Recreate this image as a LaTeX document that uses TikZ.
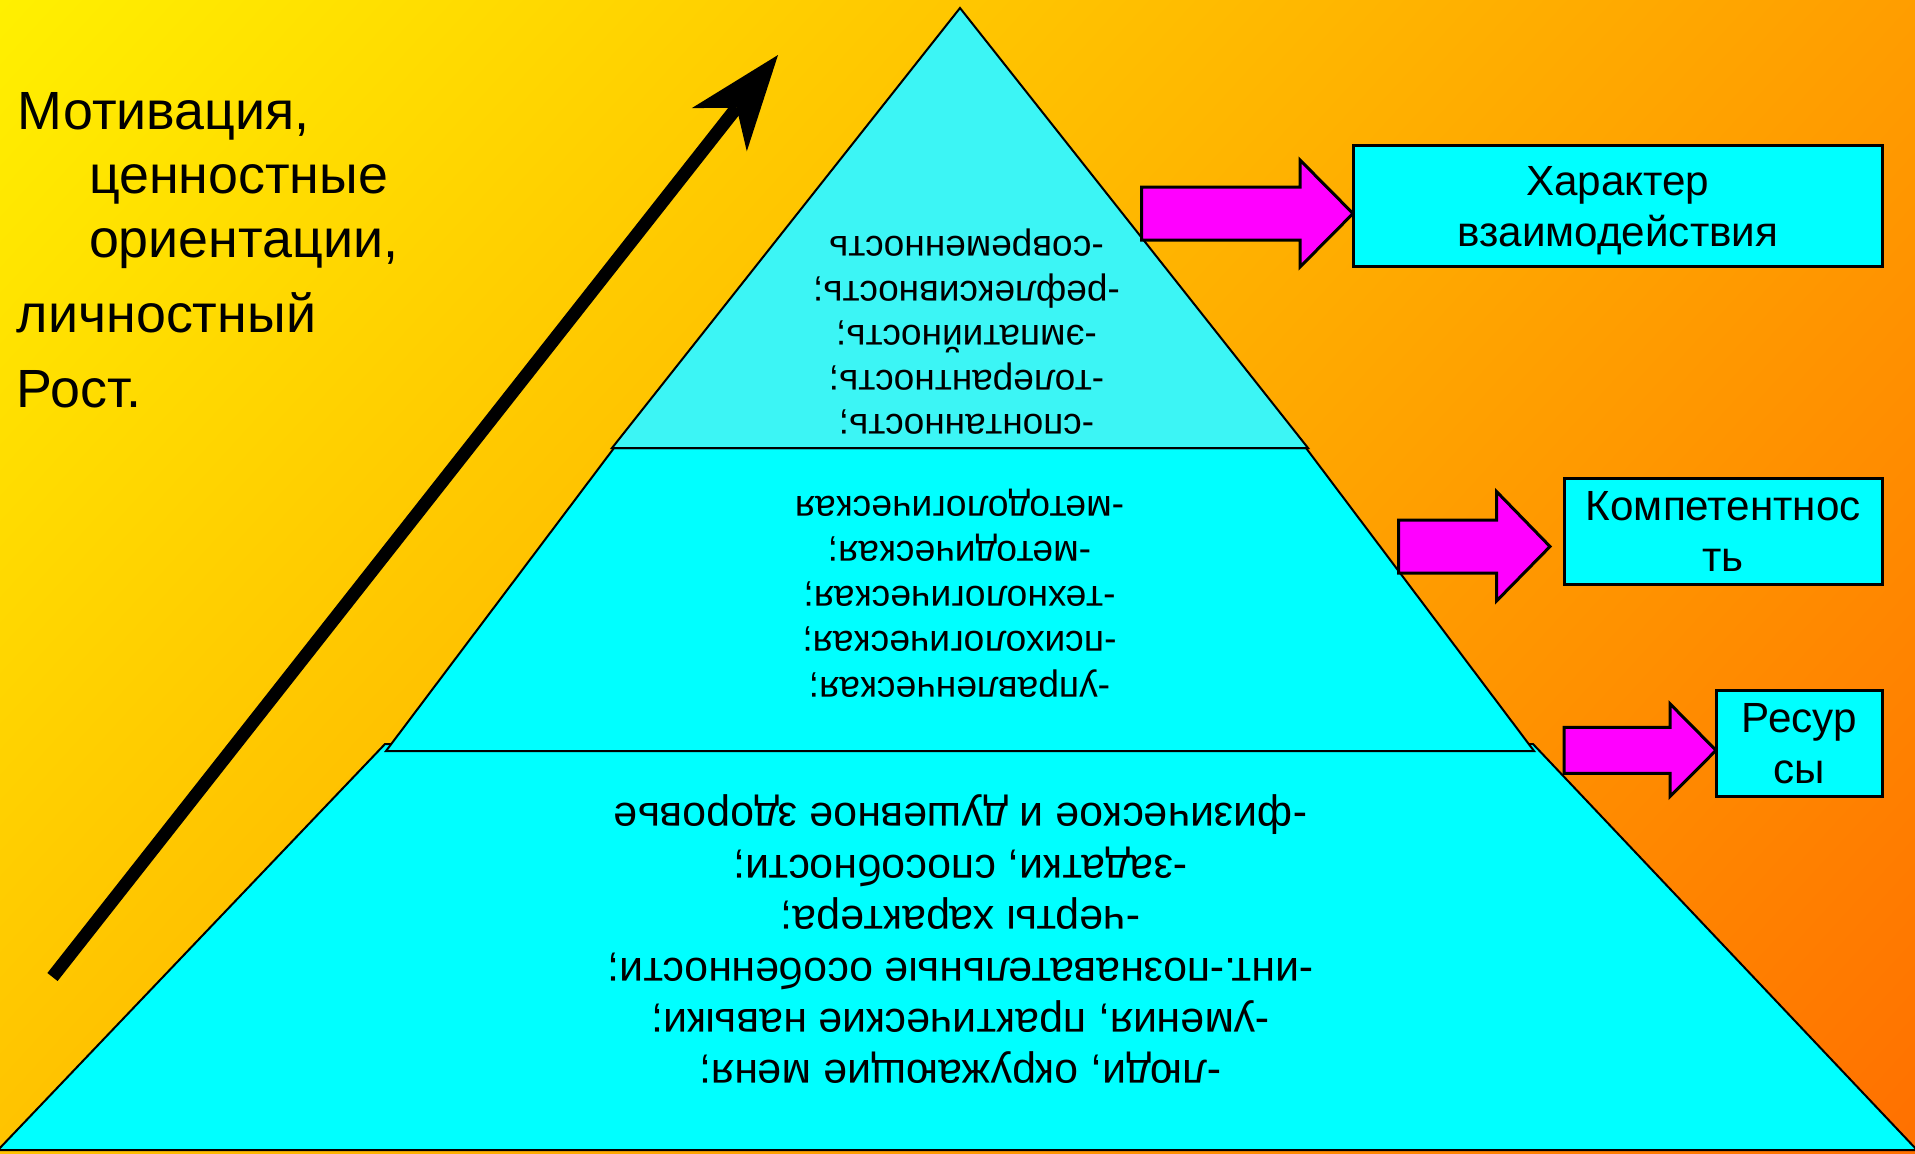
\documentclass[tikz,border=0pt]{standalone}
\usepackage{fontspec}
\setmainfont{Liberation Sans}
\usetikzlibrary{calc}
\definecolor{bgA}{RGB}{255,240,0}
\definecolor{bgB}{RGB}{255,112,0}
\definecolor{pyrTop}{RGB}{60,245,245}
\definecolor{pyrCyan}{RGB}{0,255,255}
\definecolor{arrMag}{RGB}{255,0,255}
\pgfdeclarehorizontalshading{bgshade}{1400bp}{color(0bp)=(bgA); color(300bp)=(bgA); color(1391.6bp)=(bgB); color(1691.6bp)=(bgB)}
\newcommand{\myhs}[1]{\rule{0pt}{#1}}
\newcommand{\myds}[1]{\rule[-#1]{0pt}{#1}}
\begin{document}
\begin{tikzpicture}[x=0.5pt,y=-0.5pt,
  pyr/.style={draw=black, line width=1pt, line join=miter},
  ptext/.style={rotate=180, align=center, inner sep=0pt, outer sep=0pt},
  barrow/.style={fill=arrMag, draw=black, line width=1.5pt, line join=miter},
  infobox/.style={draw=black, fill=pyrCyan, line width=1.5pt, align=center, inner sep=0pt,
    font=\fontsize{21.1}{25.5}\selectfont},
  lefttext/.style={inner sep=0pt, outer sep=0pt, anchor=base west, font=\fontsize{26.9}{31}\selectfont}
]
\useasboundingbox (0,0) rectangle (1915,1153);
\begin{scope}
  \clip (0,0) rectangle (1915,1153);
  \node[inner sep=0pt, outer sep=0pt, rotate=-42.45] (bg) at (957.5,576.5) {\pgfuseshading{bgshade}};
\end{scope}

% pyramid
\draw[pyr, fill=pyrCyan] (385,744) -- (1533,744) -- (1917,1150) -- (-2,1150) -- cycle;
\draw[pyr, fill=pyrCyan] (614,448) -- (1306,448) -- (1534,751) -- (386,751) -- cycle;
\draw[pyr, fill=pyrTop] (960,8) -- (1308,448) -- (612,448) -- cycle;

% pyramid texts (upside down)
\node[ptext, font=\fontsize{18.5}{22.2}\selectfont] (txtTop) at (966.5,335.3)
  {\myhs{0.8em}-спонтанность;\\-толерантность;\\-эмпатийность;\\-рефлексивность;\\-современность\myds{0.28em}};
\node[ptext, font=\fontsize{18.6}{22.6}\selectfont] (txtMid) at (959.5,596.4)
  {\myhs{0.8em}-управленческая;\\-психологическая;\\-технологическая;\\-методическая;\\-методологическая\myds{0.28em}};
\node[ptext, font=\fontsize{21.4}{25.7}\selectfont] (txtBot) at (960.5,943.6)
  {\myhs{0.8em}-люди, окружающие меня;\\-умения, практические навыки;\\-инт.-познавательные особенности;\\-черты характера;\\-задатки, способности;\\-физическое и душевное здоровье\myds{0.28em}};

% big black arrow
\coordinate (arTail) at (52.5,977);
\coordinate (arTip) at (778,55);
\coordinate (arBarbL) at (691.8,108.1);
\coordinate (arBarbR) at (746.8,151.3);
\coordinate (arNotch) at (736.6,107.7);
\draw[line width=6.5pt] (arTail) -- (arNotch);
\fill (arTip) -- (arBarbL) -- (arNotch) -- (arBarbR) -- cycle;

% left text
\node[lefttext] (lt1) at (18,129) {Мотивация,};
\node[lefttext] (lt2) at (89,193) {ценностные};
\node[lefttext] (lt3) at (89,257) {ориентации,};
\node[lefttext] (lt4) at (17,332) {личностный};
\node[lefttext] (lt5) at (17,407) {Рост.};

% block arrows
\draw[barrow] (1141.5,187) -- (1300,187) -- (1300,160) -- (1353,213.5) -- (1300,267) -- (1300,240) -- (1141.5,240) -- cycle;
\draw[barrow] (1398.5,520) -- (1496.5,520) -- (1496.5,491.5) -- (1550,546.5) -- (1496.5,601) -- (1496.5,573) -- (1398.5,573) -- cycle;
\draw[barrow] (1564,727.4) -- (1670,727.4) -- (1670,703.8) -- (1716,750.3) -- (1670,796.5) -- (1670,773.3) -- (1564,773.3) -- cycle;

% boxes
\node[infobox, minimum width=264.8pt, minimum height=60.85pt] (boxChar) at (1617.8,206)
  {\myhs{0.96em}Характер\\взаимодействия\myds{0.25em}};
\node[infobox, minimum width=159.3pt, minimum height=53.3pt] (boxComp) at (1723.3,531.3)
  {\myhs{0.96em}Компетентнос\\ть\myds{0.25em}};
\node[infobox, minimum width=83.3pt, minimum height=53pt] (boxRes) at (1799.3,743)
  {\myhs{0.96em}Ресур\\сы\myds{0.25em}};
\end{tikzpicture}
\end{document}
